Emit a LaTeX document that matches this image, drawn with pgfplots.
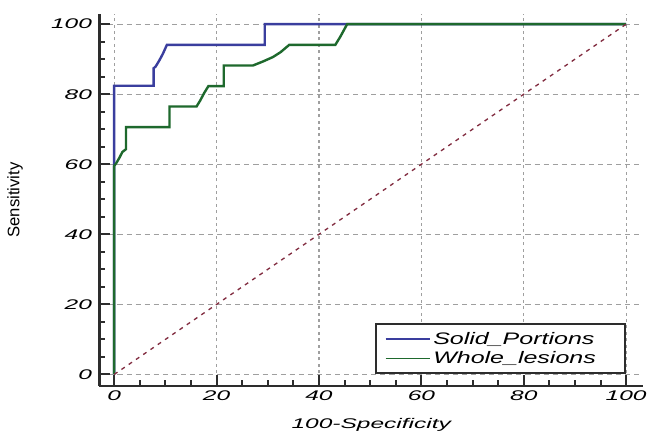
\documentclass[border=0pt]{standalone}
\usepackage{pgfplots}
\pgfplotsset{compat=1.18}
\usepackage{fontspec}
\setmainfont{Liberation Sans}
\newfontfamily\tickfont{Liberation Sans}[FakeStretch=1.75]
\newfontfamily\legfont{Liberation Sans}[FakeStretch=1.5]

\definecolor{rocblue}{RGB}{58,62,158}
\definecolor{rocgreen}{RGB}{30,105,45}
\definecolor{diagred}{RGB}{130,45,65}
\definecolor{axisgray}{RGB}{45,45,45}

\begin{document}
\begin{tikzpicture}
  \useasboundingbox (-74.5pt,-36pt) rectangle (411.5pt,289.5pt);
  \begin{axis}[
      scale only axis,
      width=407.8pt,
      height=279pt,
      xmin=-2.9, xmax=103.3,
      ymin=-3.3, ymax=102.9,
      axis lines=left,
      axis line style={-, line width=2pt, axisgray},
      xtick={0,20,...,100},
      ytick={0,20,...,100},
      minor tick num=3,
      tick align=inside,
      major tick length=8pt,
      minor tick length=4.5pt,
      tick style={line width=1.5pt, axisgray},
      xmajorgrids, ymajorgrids,
      x grid style={gray!75, line width=0.8pt, dash pattern=on 2.2pt off 2.6pt},
      y grid style={gray!75, line width=0.8pt, dash pattern=on 3.8pt off 3pt},
      /pgf/number format/assume math mode=true,
      ticklabel style={font=\tickfont\itshape\fontsize{10.5}{12}\selectfont},
      yticklabel style={xshift=-2pt},
      xlabel={100-Specificity},
      xlabel style={font=\tickfont\itshape\fontsize{10.5}{12}\selectfont,
          at={(axis description cs:0.5,0)}, anchor=center, yshift=-29pt},
      ylabel={Sensitivity},
      ylabel style={font=\fontsize{12.5}{14}\selectfont,
          at={(axis description cs:-0.155,0.5)}, anchor=center},
      legend style={
          at={(axis cs:100,0)}, anchor=south east,
          draw=axisgray, line width=1.5pt,
          font=\legfont\itshape\fontsize{12.5}{14}\selectfont,
          inner xsep=7pt, inner ysep=4pt,
          row sep=0pt,
      },
      legend cell align=left,
      legend image code/.code={\draw[#1, line width=1.3pt] (0pt,0pt) -- (33pt,0pt);},
  ]
  \addplot[color=rocblue, line width=1.8pt]
      coordinates {
          (0,0) (0,82.4) (7.7,82.4) (7.7,87.4) (8.1,87.9) (8.8,89.6)
          (9.5,91.5) (10.3,94.1) (29.4,94.1) (29.4,100) (100,100)
      };
  \addlegendentry{Solid\_Portions\kern13pt}

  \addplot[color=rocgreen, line width=1.8pt]
      coordinates {
          (0,0) (0,59.5) (0.4,60.3) (1.0,61.8) (1.6,63.5) (2.3,64.3)
          (2.3,70.6) (10.8,70.6) (10.8,76.5) (16.1,76.5) (16.8,78.2)
          (17.6,80.4) (18.4,82.3) (21.4,82.3) (21.4,88.2) (27.1,88.2)
          (29,89.3) (31,90.6) (32.5,92) (34.2,94.1) (43.2,94.1)
          (44.2,96.5) (45.5,100) (100,100)
      };
  \addlegendentry{Whole\_lesions\kern13pt}

  \addplot[color=diagred, line width=1pt, dash pattern=on 3pt off 3.6pt, forget plot]
      coordinates {
          (0,0) (100,100)
      };
  \end{axis}
\end{tikzpicture}
\end{document}
